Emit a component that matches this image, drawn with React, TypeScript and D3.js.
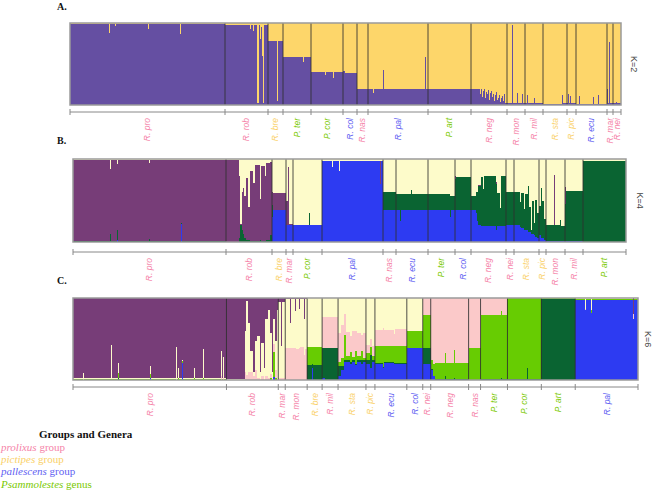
import * as d3 from 'd3';

// block = [population, individuals, q-values in cluster order]
type Block = [string, number, ...number[]];

const popLabel: Record<string, string> = {
  pro: 'R. pro', rob: 'R. rob', bre: 'R. bre', ter: 'P. ter', cor: 'P. cor', col: 'R. col',
  nas: 'R. nas', pal: 'R. pal', art: 'P. art', neg: 'R. neg', mon: 'R. mon', mil: 'R. mil',
  sta: 'R. sta', pic: 'R. pic', ecu: 'R. ecu', mar: 'R. mar', nei: 'R. nei',
};

const popGroup: Record<string, string> = {
  pro: 'prolixus', rob: 'prolixus', neg: 'prolixus', nas: 'prolixus', mar: 'prolixus',
  mon: 'prolixus', mil: 'prolixus', nei: 'prolixus',
  bre: 'pictipes', sta: 'pictipes', pic: 'pictipes',
  pal: 'pallescens', col: 'pallescens', ecu: 'pallescens',
  ter: 'Psammolestes', cor: 'Psammolestes', art: 'Psammolestes',
};

const groupColor: Record<string, string> = {
  prolixus: '#f583a8',
  pictipes: '#fad168',
  pallescens: '#6161f2',
  Psammolestes: '#79c900',
};

const legendRows: [string, string][] = [
  ['prolixus', ' group'],
  ['pictipes', ' group'],
  ['pallescens', ' group'],
  ['Psammolestes', ' genus'],
];

// cluster colours
const PURPLE = '#654fa2';
const YELLOW = '#fdd66a';
const PLUM = '#773d78';
const CREAM = '#fdfbca';
const BLUE = '#2d3bf2';
const DKGREEN = '#0a6432';
const LTGREEN = '#67cc02';
const PINK = '#fbc9c9';

const colorsK2 = [PURPLE, YELLOW];
const colorsK4 = [BLUE, DKGREEN, PLUM, CREAM];
const colorsK6 = [BLUE, DKGREEN, LTGREEN, PINK, CREAM, PLUM];

// K=2 : purple, yellow
const blocksK2: Block[] = [
  ['pro', 39, .985, .015], ['pro', 1, .88, .12], ['pro', 5, .985, .015], ['pro', 1, .96, .04],
  ['pro', 32, .985, .015], ['pro', 1, .93, .07], ['pro', 31, .985, .015], ['pro', 1, .87, .13],
  ['pro', 44, .985, .015],
  ['rob', 25, .98, .02], ['rob', 1, .93, .07], ['rob', 2, .98, .02], ['rob', 1, .9, .1],
  ['rob', 3, .97, .03], ['rob', 2, .02, .98], ['rob', 1, .97, .03], ['rob', 1, .8, .2],
  ['rob', 1, .95, .05], ['rob', 1, .6, .4], ['rob', 1, .02, .98], ['rob', 4, .98, .02],
  ['bre', 9, .78, .22], ['bre', 1, .05, .95], ['bre', 5, .78, .22],
  ['ter', 20, .59, .41], ['ter', 1, .52, .48], ['ter', 7, .59, .41],
  ['cor', 14, .4, .6], ['cor', 1, .36, .64], ['cor', 7, .4, .6], ['cor', 1, .33, .67], ['cor', 9, .4, .6],
  ['col', 2, .42, .58], ['col', 12, .39, .61],
  ['nas', 11, .195, .805],
  ['pal', 5, .2, .8], ['pal', 1, .15, .85], ['pal', 9, .2, .8], ['pal', 1, .43, .57],
  ['pal', 41, .2, .8], ['pal', 1, .59, .41], ['pal', 2, .2, .8],
  ['art', 43, .19, .81],
  ['neg', 9, .19, .81], ['neg', 1, .14, .86], ['neg', 1, .19, .81], ['neg', 1, .1, .9],
  ['neg', 1, .17, .83], ['neg', 1, .19, .81], ['neg', 1, .08, .92], ['neg', 1, .16, .84],
  ['neg', 1, .13, .87], ['neg', 1, .18, .82], ['neg', 1, .06, .94], ['neg', 1, .15, .85],
  ['neg', 1, .17, .83], ['neg', 1, .1, .9], ['neg', 1, .14, .86], ['neg', 1, .05, .95],
  ['neg', 1, .12, .88], ['neg', 1, .16, .84], ['neg', 1, .06, .94], ['neg', 1, .09, .91],
  ['neg', 1, .12, .88], ['neg', 1, .04, .96], ['neg', 1, .08, .92], ['neg', 1, .11, .89],
  ['neg', 1, .05, .95], ['neg', 1, .14, .86], ['neg', 1, .03, .97], ['neg', 1, .02, .98],
  ['mon', 5, .02, .98], ['mon', 1, .98, .02], ['mon', 4, .02, .98], ['mon', 1, .15, .85],
  ['mon', 4, .02, .98], ['mon', 1, .14, .86], ['mon', 2, .02, .98],
  ['mil', 2, .02, .98], ['mil', 1, .12, .88], ['mil', 6, .02, .98], ['mil', 1, .09, .91], ['mil', 8, .02, .98],
  ['sta', 19, .015, .985], ['sta', 1, .12, .88], ['sta', 4, .02, .98],
  ['pic', 1, .02, .98], ['pic', 1, .13, .87], ['pic', 1, .02, .98], ['pic', 1, .11, .89], ['pic', 5, .02, .98],
  ['ecu', 3, .015, .985], ['ecu', 1, .11, .89], ['ecu', 13, .015, .985], ['ecu', 1, .1, .9],
  ['ecu', 4, .015, .985], ['ecu', 1, .12, .88], ['ecu', 8, .015, .985],
  ['mar', 1, .2, .8], ['mar', 1, .03, .97], ['mar', 1, .77, .23], ['mar', 3, .03, .97],
  ['nei', 3, .02, .98], ['nei', 1, .04, .96], ['nei', 4, .02, .98],
];

// K=4 : blue, dark green, plum, cream
const blocksK4: Block[] = [
  ['pro', 37, .003, .005, .98, .012], ['pro', 1, 0, .1, .78, .12], ['pro', 6, .003, .005, .98, .012],
  ['pro', 1, .02, .12, .8, .06], ['pro', 31, .003, .005, .98, .012], ['pro', 1, 0, .04, .91, .05],
  ['pro', 31, .003, .005, .98, .012], ['pro', 1, .22, .01, .76, .01], ['pro', 44, .003, .005, .98, .012],
  ['rob', 13, 0, .005, .985, .01], ['rob', 1, 0, .05, .75, .2], ['rob', 2, 0, .2, .02, .78],
  ['rob', 1, 0, .15, .45, .4], ['rob', 1, 0, .1, .55, .35], ['rob', 2, 0, .05, .5, .45],
  ['rob', 2, 0, .02, .75, .23], ['rob', 2, 0, .02, .4, .58], ['rob', 3, 0, .01, .85, .14],
  ['rob', 2, 0, .01, .7, .29], ['rob', 5, 0, .01, .92, .07], ['rob', 1, 0, .02, .5, .48],
  ['rob', 4, 0, .01, .9, .09], ['rob', 1, 0, .01, .78, .21], ['rob', 4, 0, .02, .93, .05],
  ['rob', 2, 0, .08, .88, .04],
  ['bre', 1, .3, .15, .15, .4], ['bre', 13, .39, 0, .2, .41],
  ['mar', 2, .2, 0, .3, .5], ['mar', 1, .2, 0, .7, .1], ['mar', 4, .2, 0, .02, .78],
  ['cor', 16, .2, 0, 0, .8], ['cor', 1, .2, .15, 0, .65], ['cor', 12, .2, .01, 0, .79],
  ['pal', 10, .97, 0, 0, .03], ['pal', 1, .9, 0, 0, .1], ['pal', 6, .97, 0, 0, .03],
  ['pal', 1, .85, 0, 0, .15], ['pal', 40, .97, 0, 0, .03], ['pal', 1, .7, 0, .27, .03],
  ['pal', 2, .97, 0, 0, .03],
  ['nas', 13, .39, .21, 0, .4],
  ['ecu', 4, .38, .2, 0, .42], ['ecu', 1, .25, .33, 0, .42], ['ecu', 10, .38, .2, 0, .42],
  ['ecu', 1, .38, .25, 0, .37], ['ecu', 16, .38, .2, 0, .42],
  ['ter', 22, .38, .2, 0, .42], ['ter', 1, .3, .25, 0, .45], ['ter', 4, .38, .18, 0, .44],
  ['col', 1, .38, .38, .04, .2], ['col', 15, .38, .4, 0, .22],
  ['neg', 5, .38, .17, 0, .45], ['neg', 1, .35, .25, 0, .4], ['neg', 1, .25, .35, 0, .4],
  ['neg', 3, .2, .48, .01, .31], ['neg', 2, .19, .59, 0, .22], ['neg', 1, .19, .45, 0, .36],
  ['neg', 12, .19, .6, 0, .21], ['neg', 1, .15, .55, .02, .28], ['neg', 3, .19, .4, 0, .41],
  ['neg', 1, .19, .22, 0, .59], ['neg', 5, .19, .6, 0, .21],
  ['nei', 8, .2, .4, 0, .4],
  ['sta', 6, .2, .4, 0, .4], ['sta', 1, .18, .3, 0, .52], ['sta', 3, .17, .42, 0, .41],
  ['sta', 1, .15, .25, 0, .6], ['sta', 3, .15, .43, 0, .42], ['sta', 1, .12, .55, 0, .33],
  ['sta', 2, .12, .3, 0, .58], ['sta', 1, .1, .05, 0, .85], ['sta', 2, .1, .4, 0, .5],
  ['sta', 1, .08, .15, 0, .77], ['sta', 2, .06, .45, 0, .49], ['sta', 2, .05, .3, 0, .65],
  ['pic', 2, .08, .35, 0, .57], ['pic', 1, .05, .6, 0, .35], ['pic', 2, .05, .45, 0, .5],
  ['pic', 2, .03, .25, 0, .72],
  ['mon', 8, .01, .2, 0, .79], ['mon', 1, .01, .2, .6, .19], ['mon', 5, .01, .2, 0, .79],
  ['mon', 1, .01, .25, 0, .74], ['mon', 4, .01, .18, 0, .81],
  ['mil', 1, .01, .45, .2, .34], ['mil', 17, .01, .6, 0, .39],
  ['art', 43, 0, .98, 0, .02],
];

// K=6 : blue, dark green, light green, pink, cream, plum
const blocksK6: Block[] = [
  ['pro', 10, 0, .003, .004, .003, .01, .98], ['pro', 1, 0, 0, 0, 0, .08, .92],
  ['pro', 27, 0, .003, .004, .003, .01, .98], ['pro', 1, 0, 0, .01, 0, .42, .57],
  ['pro', 6, 0, .003, .004, .003, .01, .98], ['pro', 1, 0, .03, .05, 0, .13, .79],
  ['pro', 31, 0, .003, .004, .003, .01, .98], ['pro', 1, .03, 0, .04, 0, .1, .83],
  ['pro', 25, 0, .003, .004, .003, .01, .98], ['pro', 1, 0, 0, 0, 0, .4, .6],
  ['pro', 1, 0, .003, .004, .003, .01, .98], ['pro', 1, 0, 0, .03, 0, .12, .85],
  ['pro', 3, 0, .003, .004, .003, .01, .98], ['pro', 1, .21, 0, .02, 0, .01, .76],
  ['pro', 11, 0, .003, .004, .003, .01, .98], ['pro', 1, 0, 0, .03, 0, .12, .85],
  ['pro', 8, 0, .003, .004, .003, .01, .98], ['pro', 1, 0, 0, .03, 0, .35, .62],
  ['pro', 18, 0, .003, .004, .003, .01, .98], ['pro', 1, 0, 0, 0, .05, .3, .65],
  ['pro', 1, 0, .003, .004, .003, .01, .98], ['pro', 1, 0, 0, 0, .03, .25, .72],
  ['pro', 2, 0, .003, .004, .003, .01, .98],
  ['rob', 19, 0, 0, 0, 0, .01, .99], ['rob', 1, 0, 0, 0, .1, .5, .4], ['rob', 2, 0, 0, 0, .06, .9, .04],
  ['rob', 2, 0, 0, 0, .1, .6, .3], ['rob', 3, 0, 0, 0, .1, .25, .65], ['rob', 2, 0, 0, 0, .05, .05, .9],
  ['rob', 2, 0, 0, 0, .12, .35, .53], ['rob', 3, 0, 0, 0, .02, .52, .46], ['rob', 1, 0, 0, 0, 0, .1, .9],
  ['rob', 3, 0, 0, 0, .05, .4, .55], ['rob', 1, 0, 0, 0, 0, .15, .85], ['rob', 3, 0, 0, 0, .05, .7, .25],
  ['rob', 2, 0, 0, 0, .03, .82, .15], ['rob', 2, 0, 0, .02, .05, .5, .43], ['rob', 1, 0, 0, 0, 0, .1, .9],
  ['rob', 2, .04, 0, .3, .1, .3, .26], ['rob', 2, 0, 0, .02, .1, .35, .53], ['rob', 1, 0, 0, 0, 0, .85, .15],
  ['mar', 3, 0, 0, 0, .02, .93, .05], ['mar', 1, 0, 0, 0, .02, .4, .58], ['mar', 3, 0, 0, 0, .02, .93, .05],
  ['mon', 5, 0, 0, 0, .39, .6, .01], ['mon', 1, 0, 0, 0, .39, .3, .31], ['mon', 4, 0, 0, 0, .39, .6, .01],
  ['mon', 1, 0, 0, 0, .39, .45, .16], ['mon', 3, 0, 0, 0, .38, .61, .01], ['mon', 1, 0, 0, 0, .39, .48, .13],
  ['mon', 4, 0, 0, 0, .4, .59, .01], ['mon', 1, 0, 0, 0, .3, .45, .25], ['mon', 2, 0, 0, 0, .38, .61, .01],
  ['bre', 5, 0, .18, .22, 0, .6, 0], ['bre', 1, .15, .05, .2, 0, .6, 0], ['bre', 9, 0, .18, .22, 0, .6, 0],
  ['mil', 3, .03, .36, 0, .38, .23, 0], ['mil', 13, 0, .39, 0, .38, .23, 0],
  ['sta', 3, .05, .12, .05, .35, .43, 0], ['sta', 3, .12, .05, .1, .4, .33, 0], ['sta', 2, .22, .03, .3, .25, .2, 0],
  ['sta', 4, .22, .02, .05, .3, .41, 0], ['sta', 2, .2, .02, .12, .2, .46, 0], ['sta', 3, .22, .02, .04, .32, .4, 0],
  ['sta', 2, .18, .02, .15, .25, .4, 0], ['sta', 4, .22, .02, .05, .28, .43, 0], ['sta', 2, .2, .05, .1, .2, .45, 0],
  ['sta', 3, .22, .02, .03, .3, .43, 0],
  ['pic', 4, .2, .05, .08, .1, .57, 0], ['pic', 2, .15, .15, .1, .1, .5, 0], ['pic', 3, .22, .02, .05, .12, .59, 0],
  ['ecu', 8, .2, .01, .2, .2, .39, 0], ['ecu', 1, .15, .01, .25, .22, .37, 0], ['ecu', 10, .21, .01, .19, .2, .39, 0],
  ['ecu', 1, .2, .01, .2, .15, .44, 0], ['ecu', 12, .2, .01, .2, .21, .38, 0],
  ['col', 16, .39, 0, .21, 0, .4, 0],
  ['nei', 8, .2, .19, .4, .21, 0, 0],
  ['neg', 2, .12, .02, .1, .76, 0, 0], ['neg', 2, .05, 0, .15, .8, 0, 0], ['neg', 10, 0, .01, .2, .79, 0, 0],
  ['neg', 1, 0, .05, .28, .67, 0, 0], ['neg', 8, 0, .01, .2, .79, 0, 0], ['neg', 1, 0, .02, .35, .63, 0, 0],
  ['neg', 14, 0, .01, .2, .79, 0, 0],
  ['nas', 12, 0, 0, .39, .61, 0, 0],
  ['ter', 21, 0, .01, .78, .21, 0, 0], ['ter', 1, 0, .02, .82, .16, 0, 0], ['ter', 5, 0, .01, .78, .21, 0, 0],
  ['cor', 20, 0, .01, .99, 0, 0, 0], ['cor', 1, 0, .15, .85, 0, 0, 0], ['cor', 13, 0, .01, .99, 0, 0, 0],
  ['art', 34, 0, .99, .01, 0, 0, 0],
  ['pal', 10, .98, 0, .005, .005, .01, 0], ['pal', 1, .85, 0, 0, .02, .13, 0], ['pal', 5, .98, 0, .005, .005, .01, 0],
  ['pal', 1, .82, 0, .03, 0, .15, 0], ['pal', 41, .98, 0, .005, .005, .01, 0], ['pal', 1, .75, 0, 0, .05, 0, .2],
  ['pal', 4, .98, 0, .005, .005, .01, 0],
];

const panels = [
  { letter: 'A.', k: 'K=2', blocks: blocksK2, colors: colorsK2, x0: 70, x1: 621, top: 23, bottom: 105, axisY: 112, letterY: 10, kx: 634 },
  { letter: 'B.', k: 'K=4', blocks: blocksK4, colors: colorsK4, x0: 73, x1: 626, top: 159, bottom: 242, axisY: 252, letterY: 144, kx: 640 },
  { letter: 'C.', k: 'K=6', blocks: blocksK6, colors: colorsK6, x0: 73, x1: 638, top: 298, bottom: 380, axisY: 387, letterY: 284, kx: 648 },
];

type Panel = (typeof panels)[number];

const StructurePanel = ({ p }: { p: Panel }) => {
  const starts: number[] = [];
  let acc = 0;
  p.blocks.forEach((b) => {
    starts.push(acc);
    acc += b[1];
  });
  const x = d3.scaleLinear().domain([0, acc]).range([p.x0, p.x1]);
  const y = d3.scaleLinear().domain([0, 1]).range([p.bottom, p.top]);

  const keys = d3.range(p.colors.length);
  const series = d3
    .stack<Block, number>()
    .keys(keys)
    .value((d, k) => (d[k + 2] as number) / d3.sum(d.slice(2) as number[]))(p.blocks);

  // population runs -> boundaries & label centres
  const pops: { name: string; start: number; end: number }[] = [];
  p.blocks.forEach((b, i) => {
    const last = pops[pops.length - 1];
    if (last && last.name === b[0]) last.end = starts[i] + b[1];
    else pops.push({ name: b[0], start: starts[i], end: starts[i] + b[1] });
  });

  return (
    <g>
      <text x={57} y={p.letterY} fontFamily="'Liberation Serif', serif" fontWeight="bold" fontSize={10} fill="#111">
        {p.letter}
      </text>
      <g shapeRendering="crispEdges">
        {series.map((s, ci) =>
          s.map((pt, j) => {
            const xa = x(starts[j]);
            const xb = x(starts[j] + p.blocks[j][1]);
            const h = y(pt[0]) - y(pt[1]);
            if (h <= 0) return null;
            return <rect key={`${ci}-${j}`} x={xa} width={xb - xa} y={y(pt[1])} height={h} fill={p.colors[ci]} />;
          })
        )}
      </g>
      {pops.slice(1).map((g) => (
        <line key={`sep-${g.name}`} x1={x(g.start)} x2={x(g.start)} y1={p.top} y2={p.bottom} stroke="#2f2f2f" strokeWidth={1} strokeOpacity={0.85} />
      ))}
      <rect x={p.x0} y={p.top} width={p.x1 - p.x0} height={p.bottom - p.top} fill="none" stroke="#9a9a9a" strokeWidth={1.5} />
      <line x1={p.x0} x2={p.x1} y1={p.axisY} y2={p.axisY} stroke="#888" strokeWidth={1} />
      {[0, ...pops.map((g) => g.end)].map((v, i) => (
        <line key={`tick-${i}`} x1={x(v)} x2={x(v)} y1={p.axisY - 3} y2={p.axisY + 3} stroke="#888" strokeWidth={1} />
      ))}
      {pops.map((g) => {
        const cx = x((g.start + g.end) / 2);
        const ly = p.axisY + 6;
        return (
          <text
            key={`lab-${g.name}`}
            transform={`translate(${cx},${ly}) rotate(-90)`}
            dy="0.35em"
            textAnchor="end"
            fontFamily="'Liberation Sans', Arial, sans-serif"
            fontStyle="italic"
            fontSize={8.5}
            fill={groupColor[popGroup[g.name]]}
          >
            {popLabel[g.name]}
          </text>
        );
      })}
      <text
        transform={`translate(${p.kx},${(p.top + p.bottom) / 2}) rotate(90)`}
        textAnchor="middle"
        dy="0.35em"
        fontFamily="'Liberation Sans', Arial, sans-serif"
        fontSize={9}
        fill="#444"
      >
        {p.k}
      </text>
    </g>
  );
};

export default function App() {
  return (
    <svg width={669} height={492} style={{ position: 'absolute', left: 0, top: 0, background: '#fff' }}>
      {panels.map((p) => (
        <StructurePanel key={p.letter} p={p} />
      ))}
      <g fontFamily="'Liberation Serif', 'Times New Roman', serif" fontSize={11}>
        <text x={39} y={438} fontWeight="bold" fill="#111">
          Groups and Genera
        </text>
        {legendRows.map(([name, rest], i) => (
          <text key={name} x={1} y={451 + i * 12.2} fill={groupColor[name]}>
            <tspan fontStyle="italic">{name}</tspan>
            {rest}
          </text>
        ))}
      </g>
    </svg>
  );
}
